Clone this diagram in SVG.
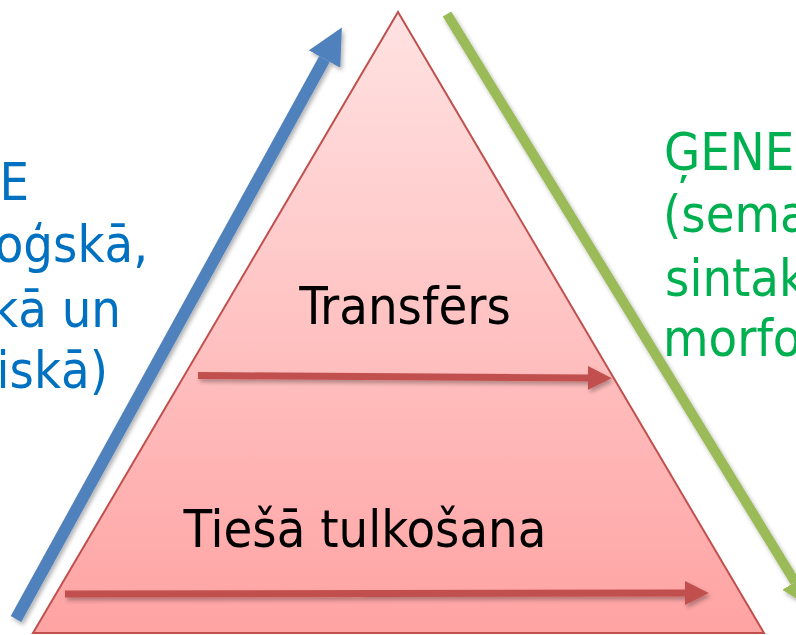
<svg xmlns="http://www.w3.org/2000/svg" width="796" height="635" viewBox="0 0 796 635">
  <defs>
    <linearGradient id="triFill" x1="0" y1="12" x2="0" y2="633" gradientUnits="userSpaceOnUse">
      <stop offset="0" stop-color="#FFE2E2"/>
      <stop offset="1" stop-color="#FFA3A3"/>
    </linearGradient>
    <filter id="shadow" filterUnits="userSpaceOnUse" x="0" y="0" width="796" height="635">
      <feDropShadow dx="2" dy="3" stdDeviation="2" flood-color="#000" flood-opacity="0.3"/>
    </filter>
    <marker id="headBlue" viewBox="0 0 10 10" refX="0" refY="5" markerWidth="3" markerHeight="3" markerUnits="strokeWidth" orient="auto">
      <path d="M0,0 L10,5 L0,10 z" fill="#4F81BD"/>
    </marker>
    <marker id="headGreen" viewBox="0 0 10 10" refX="0" refY="5" markerWidth="3" markerHeight="3" markerUnits="strokeWidth" orient="auto">
      <path d="M0,0 L10,5 L0,10 z" fill="#9BBB59"/>
    </marker>
    <marker id="headRed" viewBox="0 0 10 10" refX="0" refY="5" markerWidth="3.4" markerHeight="3.4" markerUnits="strokeWidth" orient="auto">
      <path d="M0,0 L10,5 L0,10 z" fill="#C0504D"/>
    </marker>
  </defs>
  <style>
    text { font-family: "DejaVu Sans Condensed", "DejaVu Sans", sans-serif; font-stretch: condensed; font-size: 52px; }
    .main { fill: #000; text-anchor: middle; }
    .blue { fill: #0070C0; text-anchor: end; }
    .green { fill: #00B050; text-anchor: start; }
    .conn { fill: none; filter: url(#shadow); }
  </style>

  <g id="pyramid">
    <polygon points="398,12 764,633 33,633" fill="url(#triFill)" stroke="#C0504D" stroke-width="2" stroke-linejoin="miter"/>
  </g>

  <g id="connectors">
    <line class="conn" x1="16" y1="619" x2="324.5" y2="59" stroke="#4F81BD" stroke-width="12" marker-end="url(#headBlue)"/>
    <line class="conn" x1="447" y1="14" x2="795" y2="582" stroke="#9BBB59" stroke-width="10" marker-end="url(#headGreen)"/>
    <line class="conn" x1="198" y1="375.5" x2="588" y2="378" stroke="#C0504D" stroke-width="7" marker-end="url(#headRed)"/>
    <line class="conn" x1="65" y1="594" x2="685" y2="593" stroke="#C0504D" stroke-width="7" marker-end="url(#headRed)"/>
  </g>

  <g id="transfers">
    <text class="main" x="405" y="324">Transfērs</text>
  </g>
  <g id="tiesa">
    <text class="main" x="365" y="547">Tiešā tulkošana</text>
  </g>

  <g id="analysis">
    <text class="blue" x="29" y="200">E</text>
    <text class="blue" x="148" y="262">oģskā,</text>
    <text class="blue" x="121" y="327">kā un</text>
    <text class="blue" x="108" y="388">iskā)</text>
  </g>

  <g id="generation">
    <text class="green" x="664" y="170">ĢENE</text>
    <text class="green" x="663" y="232">(sema</text>
    <text class="green" x="665" y="296">sintak</text>
    <text class="green" x="663" y="356">morfo</text>
  </g>
</svg>
